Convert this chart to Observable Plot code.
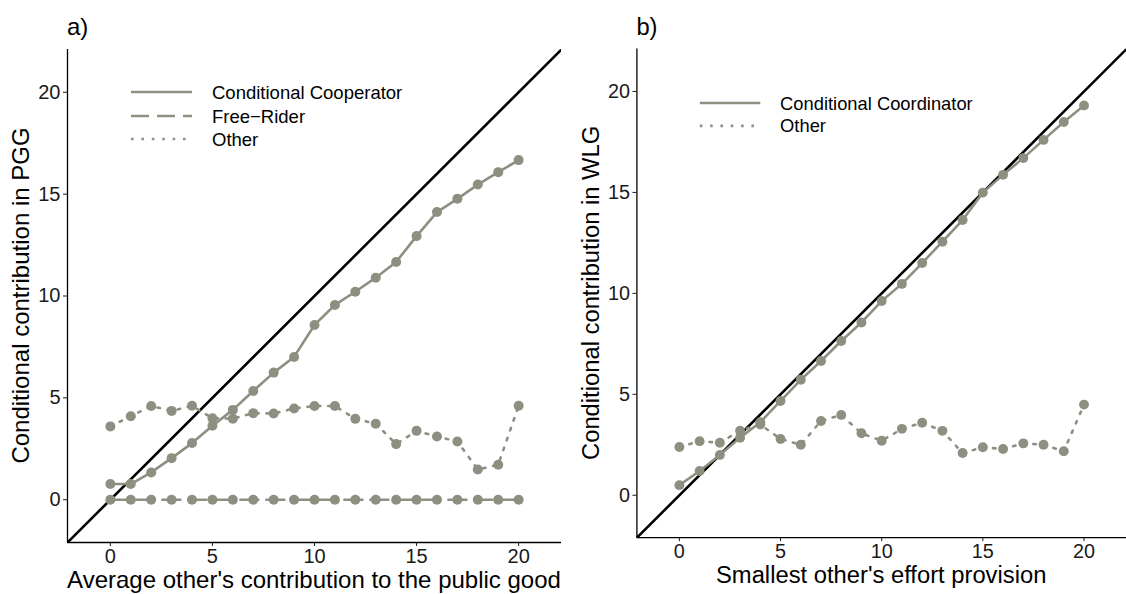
<!DOCTYPE html>
<html>
<head>
<meta charset="utf-8">
<script src="https://cdn.jsdelivr.net/npm/d3@7"></script>
<script src="https://cdn.jsdelivr.net/npm/@observablehq/plot@0.6"></script>
<style>
  html, body { margin: 0; padding: 0; background: #fff; overflow: hidden; }
  #fig { position: relative; width: 1126px; height: 594px; overflow: hidden; }
  #fig > div { position: absolute; top: 0; }
  svg { overflow: visible; }
</style>
</head>
<body>
<div id="fig">
  <div id="panelA" style="left:0px"></div>
  <div id="panelB" style="left:570px"></div>
</div>
<script>
// Shared axis settings
const axisDomain = [-2.1, 22.1];
const tickValues = [0, 5, 10, 15, 20];
const others = [0, 1, 2, 3, 4, 5, 6, 7, 8, 9, 10, 11, 12, 13, 14, 15, 16, 17, 18, 19, 20];

// Panel a) public goods game
const pggConditionalCooperator = [0.77, 0.77, 1.34, 2.04, 2.78, 3.63, 4.41, 5.34, 6.24, 7.01, 8.58,
  9.56, 10.21, 10.9, 11.67, 12.94, 14.12, 14.77, 15.47, 16.08, 16.67];
const pggFreeRider = [0, 0, 0, 0, 0, 0, 0, 0, 0, 0, 0, 0, 0, 0, 0, 0, 0, 0, 0, 0, 0];
const pggOther = [3.6, 4.1, 4.6, 4.36, 4.61, 4.0, 3.98, 4.25, 4.23, 4.48, 4.6,
  4.6, 3.97, 3.73, 2.73, 3.38, 3.1, 2.86, 1.48, 1.72, 4.61];

// Panel b) weakest-link game
const wlgConditionalCoordinator = [0.5, 1.2, 2.0, 2.85, 3.62, 4.67, 5.72, 6.65, 7.64, 8.56, 9.62,
  10.47, 11.5, 12.56, 13.63, 14.99, 15.87, 16.7, 17.6, 18.49, 19.31];
const wlgOther = [2.39, 2.68, 2.6, 3.2, 3.5, 2.79, 2.5, 3.68, 3.98, 3.07, 2.7,
  3.29, 3.59, 3.19, 2.09, 2.38, 2.29, 2.57, 2.5, 2.18, 4.49];

const pointColor = "#8f8f81";
const fontFamily = "'Liberation Sans', Arial, Helvetica, sans-serif";
const lineStyles = {
  solid: null,
  longdash: "18,8",
  dotted: "2.6,7.8"
};

function series(values) {
  return others.map((x, i) => ({x, y: values[i]}));
}

function panel({groups, xTitle, yTitle, tag, legendRows}) {
  const W = 561, H = 594, mL = 67, mT = 49, mB = 52;
  const marks = [
    Plot.axisX({ticks: tickValues, tickSize: 4, tickPadding: 2, label: null, fontSize: 20}),
    Plot.axisY({ticks: tickValues, tickSize: 4, tickPadding: 3, label: null, fontSize: 20}),
    Plot.ruleX([axisDomain[0]], {stroke: "#000", strokeWidth: 1.3}),
    Plot.ruleY([axisDomain[0]], {stroke: "#000", strokeWidth: 1.3}),
    // 45-degree reference line y = x across the panel
    Plot.line(axisDomain, {x: d => d, y: d => d, stroke: "#000", strokeWidth: 2.6, clip: true})
  ];
  for (const g of groups) {
    const data = series(g.values);
    marks.push(Plot.line(data, {x: "x", y: "y", stroke: pointColor, strokeWidth: 2.6,
      strokeDasharray: lineStyles[g.style]}));
    marks.push(Plot.dot(data, {x: "x", y: "y", r: 5, fill: pointColor, stroke: "none"}));
  }
  const chart = Plot.plot({
    width: W, height: H,
    marginLeft: mL, marginRight: 0, marginTop: mT, marginBottom: mB,
    x: {domain: axisDomain},
    y: {domain: axisDomain},
    style: {fontFamily, fontSize: "20px", color: "#1a1a1a", background: "transparent", overflow: "visible"},
    marks
  });

  const svg = d3.select(chart);
  const plotCenterX = (mL + W) / 2;
  const plotCenterY = (mT + (H - mB)) / 2;

  svg.append("text")
    .attr("x", plotCenterX).attr("y", 588)
    .attr("text-anchor", "middle")
    .attr("font-family", fontFamily).attr("font-size", 24).attr("fill", "#000")
    .text(xTitle);

  svg.append("text")
    .attr("transform", `translate(29,${plotCenterY}) rotate(-90)`)
    .attr("text-anchor", "middle")
    .attr("font-family", fontFamily).attr("font-size", 24).attr("fill", "#000")
    .text(yTitle);

  svg.append("text")
    .attr("x", mL).attr("y", 35)
    .attr("text-anchor", "start")
    .attr("font-family", fontFamily).attr("font-size", 24).attr("fill", "#000")
    .text(tag);

  // Legend: line key plus label for each type
  const legend = svg.append("g").attr("text-anchor", "start");
  groups.forEach((g, i) => {
    const y = legendRows[i];
    legend.append("line")
      .attr("x1", 131).attr("x2", 192).attr("y1", y).attr("y2", y)
      .attr("stroke", pointColor).attr("stroke-width", 2.6)
      .attr("stroke-dasharray", lineStyles[g.style]);
    legend.append("text")
      .attr("x", 212).attr("y", y).attr("dy", "0.36em")
      .attr("text-anchor", "start")
      .attr("font-family", fontFamily).attr("font-size", 18.5).attr("fill", "#000")
      .text(g.label);
  });
  return chart;
}

document.getElementById("panelA").append(panel({
  groups: [
    {label: "Conditional Cooperator", style: "solid", values: pggConditionalCooperator},
    {label: "Free\u2212Rider", style: "longdash", values: pggFreeRider},
    {label: "Other", style: "dotted", values: pggOther}
  ],
  xTitle: "Average other's contribution to the public good",
  yTitle: "Conditional contribution in PGG",
  tag: "a)",
  legendRows: [92, 116, 139]
}));

document.getElementById("panelB").append(panel({
  groups: [
    {label: "Conditional Coordinator", style: "solid", values: wlgConditionalCoordinator},
    {label: "Other", style: "dotted", values: wlgOther}
  ],
  xTitle: "Smallest other's effort provision",
  yTitle: "Conditional contribution in WLG",
  tag: "b)",
  legendRows: [104, 127]
}));
</script>
</body>
</html>
